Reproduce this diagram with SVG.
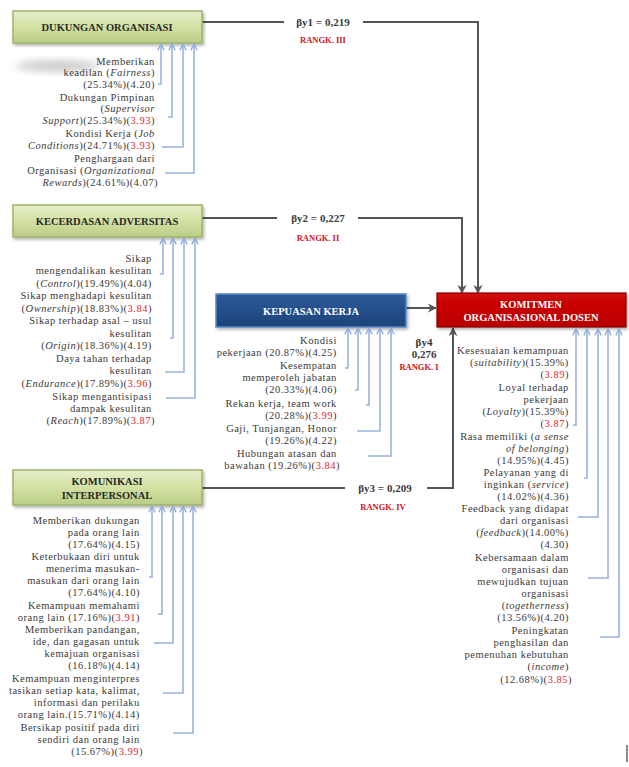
<svg xmlns="http://www.w3.org/2000/svg" width="629" height="767" viewBox="0 0 629 767">
<style>
.ind{font-family:"Liberation Serif","Times New Roman",serif;font-size:10.5px;letter-spacing:0.5px;fill:#3a3a3a;text-anchor:end}
.i{font-style:italic}
.r{fill:#e0282c}
.ttl{font-family:"Liberation Serif","Times New Roman",serif;font-size:10.5px;font-weight:bold;text-anchor:middle}
.beta{font-family:"Liberation Serif","Times New Roman",serif;font-size:11px;font-weight:bold;fill:#3a3a3a;text-anchor:middle}
.rank{font-family:"Liberation Serif","Times New Roman",serif;font-size:8.5px;font-weight:bold;fill:#d0141c;text-anchor:middle}
.conn{fill:none;stroke:#555;stroke-width:2;marker-end:url(#ah)}
.seg{fill:none;stroke:#555;stroke-width:2}
.ba{fill:none;stroke:#9ab3de;stroke-width:1.6;marker-end:url(#bh)}
.gbox{fill:url(#gg);stroke:#9db46a;stroke-width:1.5}
</style>
<defs>
<linearGradient id="gg" x1="0" y1="0" x2="0" y2="1">
<stop offset="0" stop-color="#e6eecb"/>
<stop offset="0.5" stop-color="#d3e1a3"/>
<stop offset="1" stop-color="#b9cd85"/>
</linearGradient>
<linearGradient id="bg" x1="0" y1="0" x2="0" y2="1">
<stop offset="0" stop-color="#2c5b9c"/>
<stop offset="1" stop-color="#1c4379"/>
</linearGradient>
<linearGradient id="rg" x1="0" y1="0" x2="0" y2="1">
<stop offset="0" stop-color="#d00808"/>
<stop offset="1" stop-color="#b80000"/>
</linearGradient>
<marker id="ah" viewBox="0 0 10 10" refX="9" refY="5" markerWidth="9" markerHeight="9" markerUnits="userSpaceOnUse" orient="auto">
<path d="M0,0 L10,5 L0,10 L3,5 z" fill="#555"/>
</marker>
<marker id="bh" viewBox="0 0 10 10" refX="9" refY="5" markerWidth="8" markerHeight="8" markerUnits="userSpaceOnUse" orient="auto">
<path d="M1,1 L9,5 L1,9" fill="none" stroke="#8eaadb" stroke-width="1.6"/>
</marker>
<filter id="blur" x="-50%" y="-50%" width="200%" height="200%"><feGaussianBlur stdDeviation="4"/></filter>
<filter id="sh" x="-10%" y="-30%" width="130%" height="170%"><feDropShadow dx="1.5" dy="2" stdDeviation="1.5" flood-color="#000" flood-opacity="0.3"/></filter>
</defs>
<rect width="629" height="767" fill="#fff"/>
<ellipse cx="58" cy="66" rx="42" ry="5" fill="#aaa" opacity="0.7" filter="url(#blur)"/>
<g id="connectors">
<path class="seg" d="M202,22 H284"/>
<path class="conn" d="M363,22 H478 V293"/>
<path class="seg" d="M202,218 H277"/>
<path class="conn" d="M358,218 H462 V293"/>
<path class="conn" d="M406,308 H436"/>
<path class="seg" d="M202,488 H345"/>
<path class="conn" d="M427,488 H453 V328"/>
<text class="beta" x="323" y="26">βy1 = 0,219</text>
<text class="rank" x="323" y="43">RANGK. III</text>
<text class="beta" x="318" y="222">βy2 = 0,227</text>
<text class="rank" x="318" y="241">RANGK. II</text>
<text class="beta" x="424" y="346">βy4</text>
<text class="beta" x="424" y="358">0,276</text>
<text class="rank" x="419" y="370">RANGK. I</text>
<text class="beta" x="385" y="492">βy3 = 0,209</text>
<text class="rank" x="383" y="510">RANGK. IV</text>
</g>
<g id="dukungan">
<rect class="gbox" x="13" y="11" width="189" height="32" filter="url(#sh)"/>
<text class="ttl" x="107" y="31" fill="#2a2a2a">DUKUNGAN ORGANISASI</text>
<text class="ind">
<tspan x="158" y="65">Memberikan</tspan>
<tspan x="158" y="76">keadilan (<tspan class="i">Fairness</tspan>)</tspan>
<tspan x="158" y="88">(25.34%)(4.20)</tspan>
<tspan x="158" y="101">Dukungan Pimpinan</tspan>
<tspan x="158" y="112">(<tspan class="i">Supervisor</tspan></tspan>
<tspan x="158" y="124"><tspan class="i">Support</tspan>)(25.34%)(<tspan class="r">3.93</tspan>)</tspan>
<tspan x="158" y="137">Kondisi Kerja  (<tspan class="i">Job</tspan></tspan>
<tspan x="158" y="149"><tspan class="i">Conditions</tspan>)(24.71%)(<tspan class="r">3.93</tspan>)</tspan>
<tspan x="158" y="162">Penghargaan dari</tspan>
<tspan x="158" y="174">Organisasi (<tspan class="i">Organizational</tspan></tspan>
<tspan x="158" y="186"><tspan class="i">Rewards</tspan>)(24.61%)(4.07)</tspan>
</text>
<path class="ba" d="M158,84 H161 V44"/>
<path class="ba" d="M168,117 H172 V44"/>
<path class="ba" d="M162,147 H183 V44"/>
<path class="ba" d="M165,173 H194 V44"/>
</g>
<g id="kecerdasan">
<rect class="gbox" x="13" y="205" width="189" height="32" filter="url(#sh)"/>
<text class="ttl" x="107" y="225" fill="#2a2a2a">KECERDASAN ADVERSITAS</text>
<text class="ind">
<tspan x="155" y="262">Sikap</tspan>
<tspan x="155" y="274">mengendalikan kesulitan</tspan>
<tspan x="155" y="287">(<tspan class="i">Control</tspan>)(19.49%)(4.04)</tspan>
<tspan x="155" y="299">Sikap menghadapi kesulitan</tspan>
<tspan x="155" y="312">(<tspan class="i">Ownership</tspan>)(18.83%)(<tspan class="r">3.84</tspan>)</tspan>
<tspan x="155" y="324">Sikap terhadap asal – usul</tspan>
<tspan x="155" y="337">kesulitan</tspan>
<tspan x="155" y="349">(<tspan class="i">Origin</tspan>)(18.36%)(4.19)</tspan>
<tspan x="155" y="362">Daya tahan terhadap</tspan>
<tspan x="155" y="374">kesulitan</tspan>
<tspan x="155" y="387">(<tspan class="i">Endurance</tspan>)(17.89%)(<tspan class="r">3.96</tspan>)</tspan>
<tspan x="155" y="400">Sikap mengantisipasi</tspan>
<tspan x="155" y="412">dampak kesulitan</tspan>
<tspan x="155" y="424">(<tspan class="i">Reach</tspan>)(17.89%)(<tspan class="r">3.87</tspan>)</tspan>
</text>
<path class="ba" d="M160,274 H163 V238"/>
<path class="ba" d="M170,338 H173 V238"/>
<path class="ba" d="M165,372 H184 V238"/>
<path class="ba" d="M166,398 H195 V238"/>
</g>
<g id="kepuasan">
<rect x="216" y="294" width="190" height="33" fill="url(#bg)" stroke="#5b86c2" stroke-width="1.5" filter="url(#sh)"/>
<text class="ttl" x="311" y="315" fill="#ffffff">KEPUASAN KERJA</text>
<text class="ind">
<tspan x="340" y="344">Kondisi</tspan>
<tspan x="340" y="356">pekerjaan (20.87%)(4.25)</tspan>
<tspan x="340" y="369">Kesempatan</tspan>
<tspan x="340" y="381">memperoleh jabatan</tspan>
<tspan x="340" y="393">(20.33%)(4.06)</tspan>
<tspan x="340" y="407">Rekan kerja, team work</tspan>
<tspan x="340" y="419">(20.28%)(<tspan class="r">3.99</tspan>)</tspan>
<tspan x="340" y="432">Gaji, Tunjangan, Honor</tspan>
<tspan x="340" y="444">(19.26%)(4.22)</tspan>
<tspan x="340" y="457">Hubungan atasan dan</tspan>
<tspan x="340" y="469">bawahan (19.26%)(<tspan class="r">3.84</tspan>)</tspan>
</text>
<path class="ba" d="M345,368 H348 V328"/>
<path class="ba" d="M355,390 H358 V328"/>
<path class="ba" d="M366,405 H369 V328"/>
<path class="ba" d="M357,431 H380 V328"/>
<path class="ba" d="M368,456 H391 V328"/>
</g>
<g id="komitmen">
<rect x="437" y="293" width="189" height="34" fill="url(#rg)" stroke="#8a0000" stroke-width="1.2" filter="url(#sh)"/>
<text class="ttl" x="531" y="308" fill="#ffffff" font-size="9.5">KOMITMEN</text>
<text class="ttl" x="531" y="321" fill="#ffffff" font-size="9.5">ORGANISASIONAL DOSEN</text>
<text class="ind">
<tspan x="572" y="354">Kesesuaian kemampuan</tspan>
<tspan x="572" y="366">(<tspan class="i">suitability</tspan>)(15.39%)</tspan>
<tspan x="572" y="378">(<tspan class="r">3.89</tspan>)</tspan>
<tspan x="572" y="391">Loyal terhadap</tspan>
<tspan x="572" y="403">pekerjaan</tspan>
<tspan x="572" y="415">(<tspan class="i">Loyalty</tspan>)(15.39%)</tspan>
<tspan x="572" y="427">(<tspan class="r">3.87</tspan>)</tspan>
<tspan x="572" y="440">Rasa memiliki (<tspan class="i">a sense</tspan></tspan>
<tspan x="572" y="452"><tspan class="i">of belonging</tspan>)</tspan>
<tspan x="572" y="464">(14.95%)(4.45)</tspan>
<tspan x="572" y="476">Pelayanan yang di</tspan>
<tspan x="572" y="488">inginkan (<tspan class="i">service</tspan>)</tspan>
<tspan x="572" y="500">(14.02%)(4.36)</tspan>
<tspan x="572" y="512">Feedback yang didapat</tspan>
<tspan x="572" y="524">dari organisasi</tspan>
<tspan x="572" y="536">(<tspan class="i">feedback</tspan>)(14.00%)</tspan>
<tspan x="572" y="548">(4.30)</tspan>
<tspan x="572" y="561">Kebersamaan dalam</tspan>
<tspan x="572" y="573">organisasi dan</tspan>
<tspan x="572" y="585">mewujudkan tujuan</tspan>
<tspan x="572" y="597">organisasi</tspan>
<tspan x="572" y="609">(<tspan class="i">togetherness</tspan>)</tspan>
<tspan x="572" y="621">(13.56%)(4.20)</tspan>
<tspan x="572" y="634">Peningkatan</tspan>
<tspan x="572" y="646">penghasilan dan</tspan>
<tspan x="572" y="658">pemenuhan kebutuhan</tspan>
<tspan x="572" y="670">(<tspan class="i">income</tspan>)</tspan>
<tspan x="572" y="683">(12.68%)(<tspan class="r">3.85</tspan>)</tspan>
</text>
<path class="ba" d="M573,425 H576 V329"/>
<path class="ba" d="M584,478 H587 V329"/>
<path class="ba" d="M578,517 H598 V329"/>
<path class="ba" d="M588,578 H608 V329"/>
<path class="ba" d="M600,637 H619 V329"/>
</g>
<g id="komunikasi">
<rect class="gbox" x="13" y="470" width="189" height="35" filter="url(#sh)"/>
<text class="ttl" x="107" y="485" fill="#2a2a2a">KOMUNIKASI</text>
<text class="ttl" x="107" y="499" fill="#2a2a2a">INTERPERSONAL</text>
<text class="ind">
<tspan x="143" y="524">Memberikan dukungan</tspan>
<tspan x="143" y="536">pada orang lain</tspan>
<tspan x="143" y="548">(17.64%)(4.15)</tspan>
<tspan x="143" y="560">Keterbukaan diri untuk</tspan>
<tspan x="143" y="572">menerima masukan-</tspan>
<tspan x="143" y="584">masukan dari orang lain</tspan>
<tspan x="143" y="596">(17.64%)(4.10)</tspan>
<tspan x="143" y="609">Kemampuan memahami</tspan>
<tspan x="143" y="621">orang lain (17.16%)(<tspan class="r">3.91</tspan>)</tspan>
<tspan x="143" y="633">Memberikan pandangan,</tspan>
<tspan x="143" y="645">ide, dan gagasan untuk</tspan>
<tspan x="143" y="657">kemajuan organisasi</tspan>
<tspan x="143" y="669">(16.18%)(4.14)</tspan>
<tspan x="143" y="682">Kemampuan menginterpres</tspan>
<tspan x="143" y="694">tasikan setiap kata, kalimat,</tspan>
<tspan x="143" y="706">informasi dan perilaku</tspan>
<tspan x="143" y="718">orang lain.(15.71%)(4.14)</tspan>
<tspan x="143" y="731">Bersikap positif pada diri</tspan>
<tspan x="143" y="743">sendiri dan orang lain</tspan>
<tspan x="143" y="755">(15.67%)(<tspan class="r">3.99</tspan>)</tspan>
</text>
<path class="ba" d="M149,577 H152 V506"/>
<path class="ba" d="M158,614 H162 V506"/>
<path class="ba" d="M154,643 H173 V506"/>
<path class="ba" d="M163,693 H183 V506"/>
<path class="ba" d="M173,733 H193 V506"/>
</g>
<line x1="627" y1="745" x2="627" y2="762" stroke="#666" stroke-width="1.5"/>
</svg>
